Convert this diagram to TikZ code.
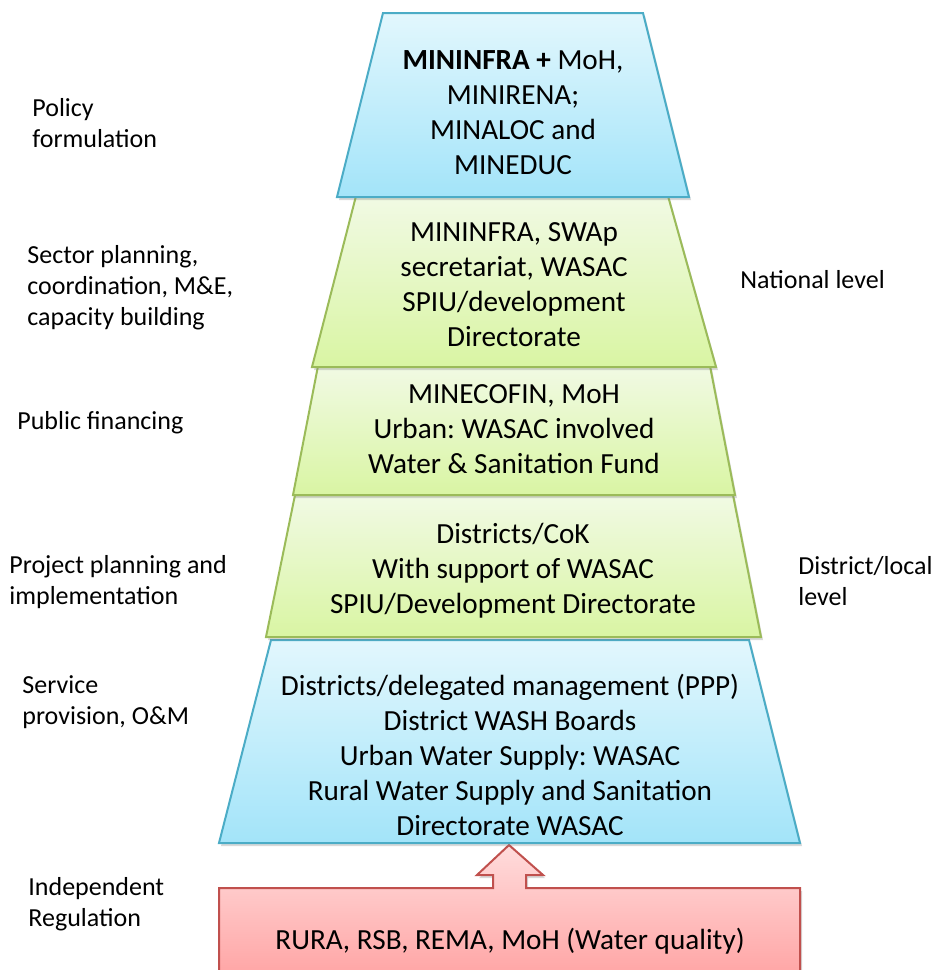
\documentclass[tikz,border=0pt]{standalone}
\usepackage{fontspec}
\setmainfont{Carlito}
\usepackage{tikz}
\usetikzlibrary{shadows}
\frenchspacing
\definecolor{blueline}{HTML}{4BACC6}
\definecolor{bluetop}{HTML}{E2F7FD}
\definecolor{bluebot}{HTML}{A3E4F9}
\definecolor{greenline}{HTML}{9BBB59}
\definecolor{greentop}{HTML}{F1FAE4}
\definecolor{greenbot}{HTML}{D9F5A3}
\definecolor{redline}{HTML}{C0504D}
\definecolor{redtop}{HTML}{FFDCDC}
\definecolor{redbot}{HTML}{FFA3A3}
\tikzset
{
    layershadow/.style = {drop shadow={opacity=0.3, shadow xshift=1pt, shadow yshift=-1.5pt}},
    bluelayer/.style   = {draw=blueline, line width=1pt, top color=bluetop, bottom color=bluebot, layershadow},
    greenlayer/.style  = {draw=greenline, line width=1pt, top color=greentop, bottom color=greenbot, layershadow},
    reglayer/.style    = {draw=redline, line width=1pt, top color=redtop, bottom color=redbot, layershadow},
    layertext/.style   = {align=center, inner sep=0pt, font=\fontsize{14.6pt}{17.5pt}\selectfont},
    sidelabel/.style   = {align=left, anchor=west, inner sep=0pt, font=\fontsize{13pt}{15.5pt}\selectfont}
}
\begin{document}
\begin{tikzpicture}[x=0.5pt, y=-0.5pt]
    \clip (0,0) rectangle (938,970);
    % regulation box with its arrow
    \path [reglayer] (219,888) -- (493,888) -- (493,875) -- (477,875) -- (509,845) -- (543,875)
        -- (526,875) -- (526,888) -- (800,888) -- (800,980) -- (219,980) -- cycle;
    % pyramid, bottom layer first
    \path [bluelayer]  (271,640) -- (749,640) -- (800,843) -- (219,843) -- cycle;
    \path [greenlayer] (295,495) -- (733,495) -- (761,637) -- (266,637) -- cycle;
    \path [greenlayer] (318,366) -- (710,366) -- (735,495) -- (293,495) -- cycle;
    \path [greenlayer] (356,196) -- (668,196) -- (716,367) -- (312,367) -- cycle;
    \path [bluelayer]  (383,13) -- (643,13) -- (689,197) -- (337,197) -- cycle;

    \node [layertext] (policy)    at (513,113) {\textbf{MININFRA +} MoH,\\MINIRENA;\\MINALOC and\\MINEDUC};
    \node [layertext] (sector)    at (514,285) {MININFRA, SWAp\\secretariat, WASAC\\SPIU/development\\Directorate};
    \node [layertext] (finance)   at (514,429) {MINECOFIN, MoH\\Urban: WASAC involved\\Water \& Sanitation Fund};
    \node [layertext] (project)   at (513,571) {Districts/CoK\\With support of WASAC\\SPIU/Development Directorate};
    \node [layertext] (service)   at (510,755) {Districts/delegated management (PPP)\\District WASH Boards\\Urban Water Supply: WASAC\\Rural Water Supply and Sanitation\\Directorate WASAC};
    \node [layertext] (regulator) at (510,941) {RURA, RSB, REMA, MoH (Water quality)};

    % row labels
    \node [sidelabel] (policylbl)   at (32,123)  {Policy\\formulation};
    \node [sidelabel] (sectorlbl)   at (27,288)  {Sector planning,\\coordination, M\&E,\\capacity building};
    \node [sidelabel] (financelbl)  at (17,423)  {Public financing};
    \node [sidelabel] (projectlbl)  at (9,582)   {Project planning and\\implementation};
    \node [sidelabel] (servicelbl)  at (22,702)  {Service\\provision, O\&M};
    \node [sidelabel] (regulatelbl) at (28,904)  {Independent\\Regulation};
    \node [sidelabel] (nationallbl) at (740,280) {National level};
    \node [sidelabel] (districtlbl) at (798,581) {District/local\\level};
\end{tikzpicture}
\end{document}
